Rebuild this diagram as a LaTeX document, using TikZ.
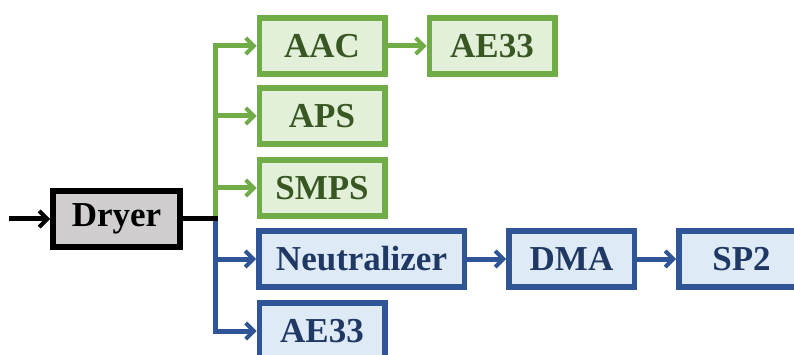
\documentclass[tikz,border=0pt]{standalone}
\usepackage{fontspec}
\setmainfont{Liberation Serif}
\usetikzlibrary{arrows.meta}
\definecolor{gline}{HTML}{70AD47}
\definecolor{gfill}{HTML}{E2F0D9}
\definecolor{gtext}{HTML}{385723}
\definecolor{bline}{HTML}{2F5597}
\definecolor{bfill}{HTML}{DEEBF7}
\definecolor{btext}{HTML}{203864}
\definecolor{dfill}{HTML}{D0CECE}
\tikzset{
  x=1pt, y=-1pt,
  box/.style={draw, line width=5.5pt, minimum width=125.5pt, minimum height=56pt,
    inner sep=0pt, font=\fontsize{35}{37}\selectfont\bfseries},
  gbox/.style={box, draw=gline, fill=gfill, text=gtext},
  bbox/.style={box, draw=bline, fill=bfill, text=btext},
  dbox/.style={box, draw=black, line width=6pt, fill=dfill, text=black, minimum width=127pt},
  conn/.style={line width=5pt, -{Straight Barb[length=8pt, width=16pt, line width=4pt]}},
  gconn/.style={conn, draw=gline, color=gline},
  bconn/.style={conn, draw=bline, color=bline},
}
\begin{document}
\begin{tikzpicture}
\useasboundingbox (0,0) rectangle (794,355);
\node[dbox] (dryer) at (116.5,219) {Dryer};
\node[gbox] (aac) at (322,46) {AAC};
\node[gbox] (ae33g) at (492,46) {AE33};
\node[gbox] (aps) at (322,116) {APS};
\node[gbox] (smps) at (322,188) {SMPS};
\node[bbox, minimum width=205.5pt] (neut) at (361.5,259) {Neutralizer};
\node[bbox] (dma) at (571.5,259) {DMA};
\node[bbox] (sp2) at (741.5,259) {SP2};
\node[bbox] (ae33b) at (322,331) {AE33};
\coordinate (in) at (9,219);
\coordinate (j) at (215,219);
\coordinate (jend) at (217.5,219);
\draw[conn] (in) -- (dryer);
\draw[gconn] (j) |- (aac);
\draw[gconn] (j) |- (aps);
\draw[gconn] (j) |- (smps);
\draw[gconn] (aac) -- (ae33g);
\draw[bconn] (j) |- (neut);
\draw[bconn] (j) |- (ae33b);
\draw[bconn] (neut) -- (dma);
\draw[bconn] (dma) -- (sp2);
\draw[line width=5pt] (dryer) -- (jend);
\end{tikzpicture}
\end{document}
